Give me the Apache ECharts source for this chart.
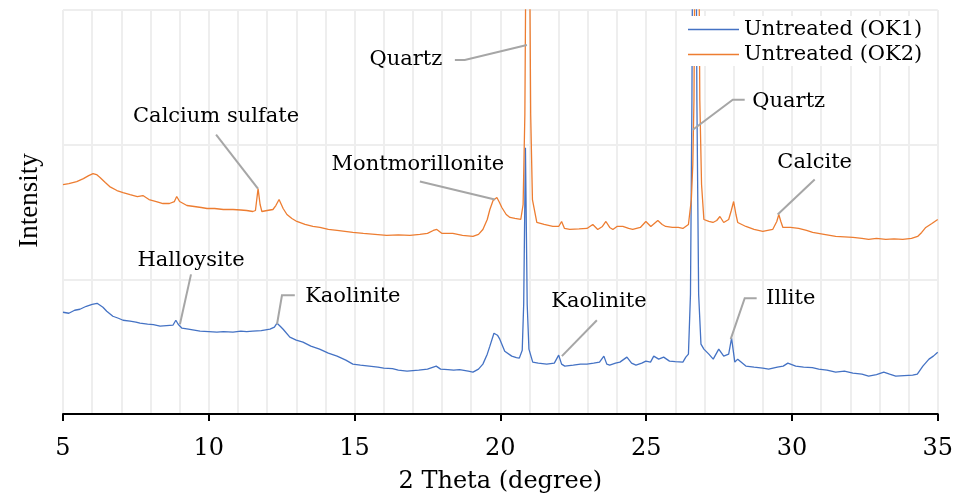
<!DOCTYPE html>
<html>
<head>
<meta charset="utf-8">
<script src="https://cdn.jsdelivr.net/npm/echarts@6/dist/echarts.min.js"></script>
<style>
html,body{margin:0;padding:0;background:#fff;}
#chart{width:956px;height:499px;}
</style>
</head>
<body>
<div id="chart"></div>
<script>
// ---- data (2 theta in degrees, intensity in arbitrary counts) ----
var xTicks = [5, 10, 15, 20, 25, 30, 35];
var seriesNames = ['Untreated (OK1)', 'Untreated (OK2)'];

var ok1Data = [
  [5.0,1020],[5.2,1010],[5.4,1040],[5.58,1050],[5.8,1080],[6.0,1100],[6.17,1110],[6.37,1070],[6.5,1030],[6.71,980],
  [6.9,960],[7.06,940],[7.3,930],[7.5,920],[7.64,910],[7.9,900],[8.1,895],[8.33,880],[8.55,885],[8.77,890],
  [8.87,940],[8.95,900],[9.08,860],[9.3,850],[9.5,840],[9.7,830],[10.0,825],[10.28,820],[10.5,825],[10.83,820],
  [11.1,830],[11.3,825],[11.51,830],[11.8,835],[12.1,850],[12.25,870],[12.34,910],[12.45,880],[12.55,850],[12.78,770],
  [13.0,740],[13.23,720],[13.5,680],[13.8,650],[14.1,610],[14.4,580],[14.7,540],[14.94,500],[15.2,490],[15.5,480],
  [15.8,470],[16.0,460],[16.3,455],[16.5,440],[16.8,430],[17.0,435],[17.2,440],[17.5,450],[17.7,470],[17.8,480],
  [17.95,450],[18.2,445],[18.4,440],[18.6,445],[18.9,430],[19.06,420],[19.25,450],[19.4,500],[19.55,600],[19.64,680],
  [19.78,810],[19.9,790],[19.98,750],[20.15,630],[20.39,580],[20.55,565],[20.65,560],[20.75,640],[20.8,1100],[20.86,2670],
  [20.92,1100],[20.98,650],[21.11,520],[21.3,510],[21.59,500],[21.85,510],[22.0,590],[22.1,500],[22.21,480],[22.5,490],
  [22.75,500],[22.97,500],[23.2,510],[23.4,520],[23.55,580],[23.65,500],[23.75,490],[23.95,510],[24.1,520],[24.34,570],
  [24.5,510],[24.65,490],[24.85,510],[24.99,530],[25.15,520],[25.26,580],[25.43,550],[25.6,570],[25.8,530],[26.0,525],
  [26.26,520],[26.36,570],[26.45,600],[26.52,1200],[26.57,3150],[26.655,9000],[26.74,3150],[26.8,1200],[26.88,700],[26.98,650],
  [27.15,600],[27.3,550],[27.49,650],[27.66,580],[27.83,600],[27.93,760],[28.04,520],[28.14,550],[28.42,480],[28.7,470],
  [29.0,460],[29.2,450],[29.5,470],[29.7,480],[29.86,510],[30.13,480],[30.4,470],[30.7,465],[30.92,450],[31.2,440],
  [31.5,420],[31.8,430],[32.09,410],[32.4,400],[32.63,380],[32.9,395],[33.15,420],[33.35,400],[33.56,380],[33.85,385],
  [34.14,390],[34.3,400],[34.49,480],[34.7,550],[34.85,580],[35.0,620]
];

var ok2Data = [
  [5.0,2300],[5.2,2310],[5.47,2330],[5.7,2360],[5.88,2390],[6.03,2410],[6.15,2400],[6.27,2370],[6.45,2320],[6.6,2280],
  [6.85,2240],[7.06,2220],[7.3,2200],[7.55,2180],[7.74,2190],[7.95,2150],[8.2,2130],[8.43,2110],[8.65,2110],[8.82,2130],
  [8.9,2180],[9.0,2130],[9.25,2090],[9.5,2080],[9.74,2070],[9.94,2060],[10.2,2060],[10.5,2050],[10.83,2050],[11.1,2045],
  [11.3,2040],[11.51,2030],[11.6,2040],[11.69,2260],[11.76,2100],[11.82,2030],[12.0,2040],[12.2,2050],[12.3,2090],[12.41,2150],
  [12.55,2060],[12.68,2000],[12.85,1960],[13.02,1930],[13.3,1900],[13.57,1880],[13.81,1870],[14.1,1850],[14.4,1840],[14.94,1820],
  [15.3,1810],[15.7,1800],[16.1,1790],[16.5,1795],[16.9,1790],[17.24,1800],[17.5,1810],[17.7,1840],[17.82,1850],[18.0,1810],
  [18.37,1810],[18.7,1790],[19.06,1780],[19.25,1800],[19.4,1850],[19.55,1950],[19.64,2050],[19.75,2140],[19.88,2170],[19.97,2120],
  [20.05,2070],[20.2,2000],[20.33,1970],[20.5,1960],[20.7,1950],[20.78,2100],[20.84,3000],[20.94,7500],[21.04,3000],[21.1,2150],
  [21.25,1920],[21.5,1900],[21.8,1880],[22.0,1880],[22.1,1930],[22.2,1860],[22.38,1850],[22.7,1855],[22.97,1860],[23.17,1900],
  [23.34,1850],[23.5,1880],[23.62,1930],[23.75,1870],[23.86,1850],[24.0,1880],[24.2,1880],[24.4,1860],[24.54,1850],[24.8,1870],
  [24.99,1930],[25.16,1880],[25.4,1940],[25.55,1900],[25.67,1880],[25.9,1870],[26.1,1870],[26.26,1860],[26.45,1900],[26.55,2150],
  [26.6,2500],[26.64,3150],[26.74,8000],[26.84,3150],[26.9,2300],[26.98,1950],[27.15,1930],[27.29,1920],[27.42,1940],[27.53,1980],
  [27.66,1920],[27.83,1950],[27.92,2040],[28.0,2130],[28.08,2000],[28.14,1920],[28.42,1880],[28.7,1850],[29.0,1830],[29.34,1850],
  [29.48,1930],[29.55,2000],[29.62,1930],[29.69,1870],[29.95,1870],[30.23,1860],[30.5,1840],[30.71,1820],[31.1,1800],[31.5,1780],
  [31.8,1775],[32.09,1770],[32.4,1760],[32.63,1750],[32.9,1760],[33.22,1750],[33.5,1755],[33.8,1750],[34.1,1760],[34.31,1780],
  [34.45,1820],[34.59,1870],[34.8,1910],[35.0,1950]
];

// annotation labels: text, label anchor, leader polyline points (data coordinates)
var annoText = ['Calcium sulfate','Quartz','Montmorillonite','Quartz','Calcite','Halloysite','Kaolinite','Kaolinite','Illite'];
var annoLabelPos = [[10.25,2980],[16.76,3550],[17.17,2500],[29.89,3130],[30.78,2520],[9.39,1540],[14.94,1180],[23.38,1130],[29.96,1160]];
var annoLeaders = [
  [[10.25,2800],[11.686,2260]],
  [[18.44,3550],[18.78,3550],[20.91,3700]],
  [[17.24,2330],[19.81,2150]],
  [[28.38,3150],[27.97,3150],[26.6,2850]],
  [[30.78,2350],[29.51,2000]],
  [[9.39,1400],[9.01,900]],
  [[12.95,1190],[12.51,1190],[12.34,900]],
  [[23.31,940],[22.11,580]],
  [[28.79,1160],[28.38,1160],[27.9,750]]
];

var serif = 'DejaVu Serif';
var chart = echarts.init(document.getElementById('chart'), null, {renderer: 'canvas'});

var option = {
  animation: false,
  backgroundColor: '#ffffff',
  grid: {left: 63, right: 18, top: 10, bottom: 84, containLabel: false},
  legend: {
    data: seriesNames,
    orient: 'vertical',
    left: 683, top: 16,
    padding: [3, 6, 1, 5],
    itemGap: 4,
    icon: 'rect',
    itemWidth: 51, itemHeight: 1.5,
    backgroundColor: '#ffffff',
    textStyle: {fontFamily: serif, fontSize: 21, color: '#000'}
  },
  xAxis: [{
    type: 'value', min: 5, max: 35, interval: 5,
    name: '2 Theta (degree)', nameLocation: 'middle', nameGap: 56,
    nameTextStyle: {fontFamily: serif, fontSize: 24, color: '#000'},
    axisLine: {show: true, onZero: false, lineStyle: {color: '#000', width: 2}},
    axisTick: {show: true, inside: false, length: 7, lineStyle: {color: '#000', width: 2}},
    axisLabel: {show: true, margin: 23, fontFamily: serif, fontSize: 24, color: '#000',
      formatter: function (v) { return xTicks.indexOf(v) >= 0 ? String(v) : ''; }},
    splitLine: {show: false}
  }, {
    type: 'value', min: 5, max: 35, interval: 1, position: 'bottom',
    axisLine: {show: false}, axisTick: {show: false}, axisLabel: {show: false},
    splitLine: {show: true, lineStyle: {color: '#eeeeee', width: 2}}
  }],
  yAxis: {
    type: 'value', min: 0, max: 4050, interval: 1350,
    name: 'Intensity', nameLocation: 'middle', nameGap: 20,
    nameTextStyle: {fontFamily: 'Liberation Serif', fontSize: 27, color: '#000', padding: [0, 0, 0, 23]},
    axisLine: {show: false}, axisTick: {show: false}, axisLabel: {show: false},
    splitLine: {show: true, lineStyle: {color: '#eeeeee', width: 2}}
  },
  series: [{
    name: seriesNames[0], type: 'line', xAxisIndex: 0, data: ok1Data,
    symbol: 'none', clip: true, color: '#4472C4',
    lineStyle: {color: '#4472C4', width: 1.3}
  }, {
    name: seriesNames[1], type: 'line', xAxisIndex: 0, data: ok2Data,
    symbol: 'none', clip: true, color: '#ED7D31',
    lineStyle: {color: '#ED7D31', width: 1.3}
  }]
};
chart.setOption(option);

var g = [];
for (var i = 0; i < annoText.length; i++) {
  var pts = annoLeaders[i].map(function (p) { return chart.convertToPixel({xAxisIndex: 0, yAxisIndex: 0}, p); });
  g.push({type: 'polyline', z: 10, shape: {points: pts}, style: {stroke: '#a6a6a6', lineWidth: 2, fill: null}});
  var lp = chart.convertToPixel({xAxisIndex: 0, yAxisIndex: 0}, annoLabelPos[i]);
  g.push({type: 'text', z: 10, x: lp[0], y: lp[1],
    style: {text: annoText[i], fill: '#000', font: '21px "DejaVu Serif"', align: 'center', verticalAlign: 'middle'}});
}
chart.setOption({graphic: g});
</script>
</body>
</html>
